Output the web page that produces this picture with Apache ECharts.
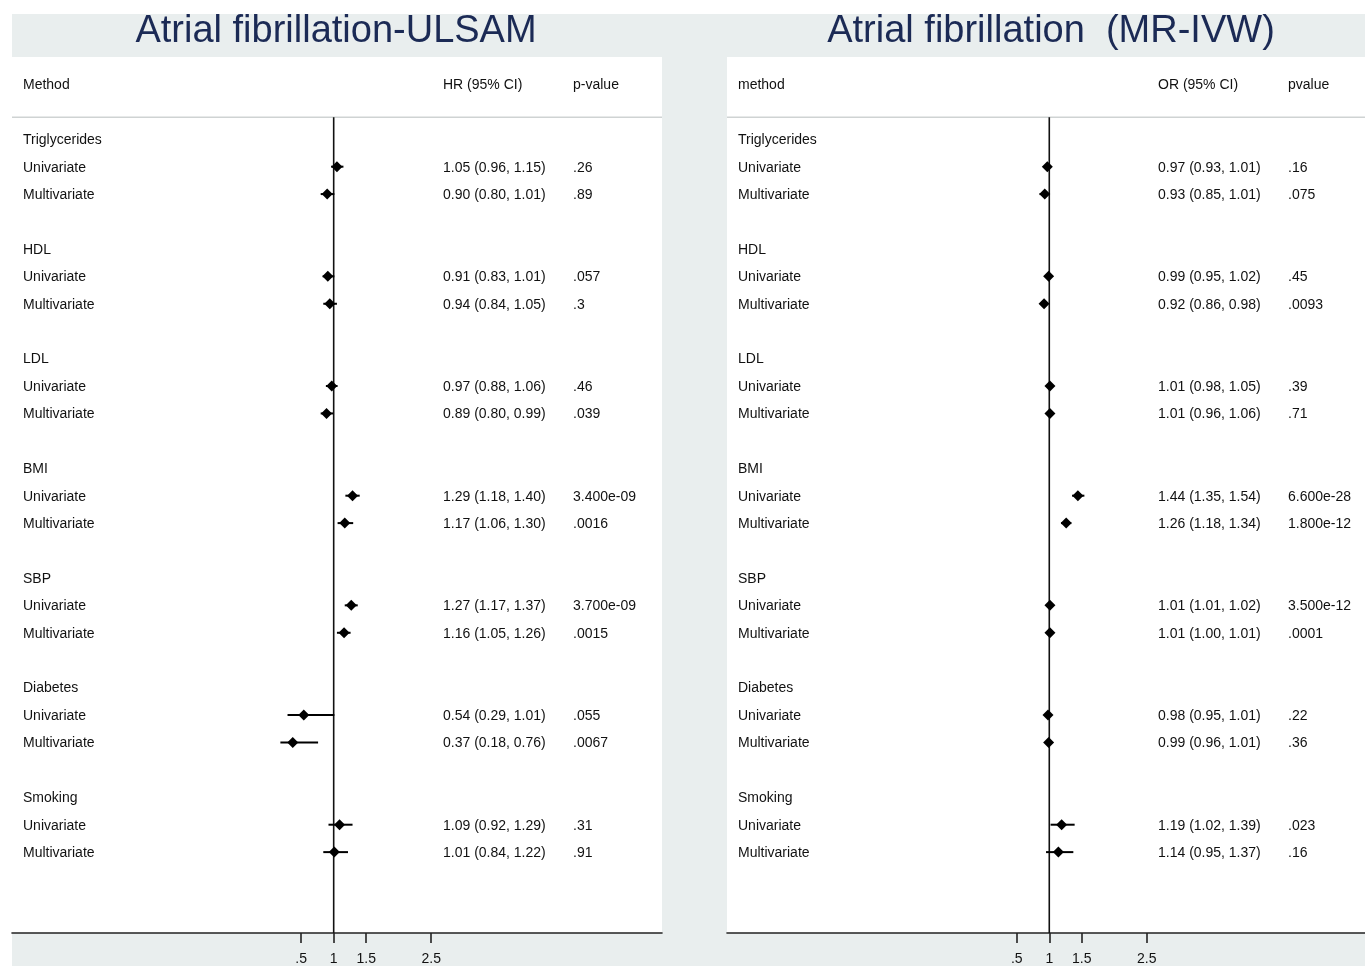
<!DOCTYPE html>
<html><head><meta charset="utf-8">
<script src="https://cdn.jsdelivr.net/npm/echarts@6/dist/echarts.min.js"></script>
<style>html,body{margin:0;padding:0;background:#fff;overflow:hidden}#c{width:1365px;height:966px;display:block}</style>
</head><body><div id="c"></div>
<script>
// ---------- data ----------
const groups = ['Triglycerides','HDL','LDL','BMI','SBP','Diabetes','Smoking'];
const subLabels = ['Univariate','Multivariate'];
const xTicks = [0.5, 1, 1.5, 2.5];

const ulsamTitle = 'Atrial fibrillation-ULSAM';
const ulsamHeaders = ['Method','HR (95% CI)','p-value'];
const ulsamEst = [1.05,0.90, 0.91,0.94, 0.97,0.89, 1.29,1.17, 1.27,1.16, 0.54,0.37, 1.09,1.01];
const ulsamLo  = [0.96,0.80, 0.83,0.84, 0.88,0.80, 1.18,1.06, 1.17,1.05, 0.29,0.18, 0.92,0.84];
const ulsamHi  = [1.15,1.01, 1.01,1.05, 1.06,0.99, 1.40,1.30, 1.37,1.26, 1.01,0.76, 1.29,1.22];
const ulsamP   = ['.26','.89','.057','.3','.46','.039','3.400e-09','.0016','3.700e-09','.0015','.055','.0067','.31','.91'];

const mrTitle = 'Atrial fibrillation  (MR-IVW)';
const mrHeaders = ['method','OR (95% CI)','pvalue'];
const mrEst = [0.97,0.93, 0.99,0.92, 1.01,1.01, 1.44,1.26, 1.01,1.01, 0.98,0.99, 1.19,1.14];
const mrLo  = [0.93,0.85, 0.95,0.86, 0.98,0.96, 1.35,1.18, 1.01,1.00, 0.95,0.96, 1.02,0.95];
const mrHi  = [1.01,1.01, 1.02,0.98, 1.05,1.06, 1.54,1.34, 1.02,1.01, 1.01,1.01, 1.39,1.37];
const mrP   = ['.16','.075','.45','.0093','.39','.71','6.600e-28','1.800e-12','3.500e-12','.0001','.22','.36','.023','.16'];

// ---------- layout ----------
const FONT = '"Liberation Sans", Arial, Helvetica, sans-serif';
const TXT = '#111';
const colOffsets = [11, 431, 561];
const yMin = -3, yMax = 28.95, headerRow = -2, sepRow = -0.8;
const panels = [
  {title: ulsamTitle, headers: ulsamHeaders, est: ulsamEst, lo: ulsamLo, hi: ulsamHi, p: ulsamP,
   left: 12, width: 650, xmin: -3.949, xmax: 6.051, titleX: 336},
  {title: mrTitle, headers: mrHeaders, est: mrEst, lo: mrLo, hi: mrHi, p: mrP,
   left: 727, width: 638, xmin: -3.958, xmax: 5.857, titleX: 1051}
];

function buildRows(pn) {
  const rows = [{row: headerRow, cols: pn.headers}];
  groups.forEach((g, gi) => {
    rows.push({row: gi * 4, cols: [g]});
    subLabels.forEach((s, si) => {
      const i = gi * 2 + si;
      rows.push({row: gi * 4 + 1 + si, cols: [s,
        pn.est[i].toFixed(2) + ' (' + pn.lo[i].toFixed(2) + ', ' + pn.hi[i].toFixed(2) + ')', pn.p[i]]});
    });
  });
  return rows;
}

const grids = [], xAxes = [], yAxes = [], series = [], graphics = [];
graphics.push({type:'rect', shape:{x:0,y:0,width:1365,height:14}, style:{fill:'#fff'}});
graphics.push({type:'rect', shape:{x:0,y:0,width:12,height:966}, style:{fill:'#fff'}});

panels.forEach((pn, k) => {
  grids.push({left: pn.left, top: 57, width: pn.width, height: 883, show: true,
              backgroundColor: '#fff', borderWidth: 0, containLabel: false});
  xAxes.push({type: 'value', gridIndex: k, min: pn.xmin, max: pn.xmax, position: 'bottom',
    axisLine: {show: true, onZero: false, lineStyle: {color: '#222', width: 1.6}},
    axisTick: {show: true, customValues: xTicks, length: 10, lineStyle: {color: '#222', width: 1.6}},
    axisLabel: {customValues: xTicks, margin: 19, color: TXT, fontFamily: FONT, fontSize: 14,
      formatter: v => String(v).replace(/^0\./, '.')},
    splitLine: {show: false}});
  yAxes.push({type: 'value', gridIndex: k, inverse: true, min: yMin, max: yMax, show: false});

  // separator under header
  series.push({type: 'line', xAxisIndex: k, yAxisIndex: k, data: [[pn.xmin, sepRow], [pn.xmax, sepRow]],
    symbol: 'none', silent: true, lineStyle: {color: '#cfd3d3', width: 1.5}, z: 1});
  // reference line at 1
  series.push({type: 'line', xAxisIndex: k, yAxisIndex: k, data: [[1, sepRow], [1, yMax]],
    symbol: 'none', silent: true, lineStyle: {color: '#111', width: 1.6}, z: 2});

  // text rows
  const rows = buildRows(pn);
  series.push({type: 'custom', xAxisIndex: k, yAxisIndex: k, silent: true, z: 3,
    data: rows.map(r => [1, r.row]),
    renderItem: (params, api) => {
      const cs = params.coordSys;
      const y = api.coord([1, api.value(1)])[1];
      const r = rows[params.dataIndex];
      return {type: 'group', children: r.cols.map((t, c) => ({
        type: 'text', style: {text: t, x: cs.x + colOffsets[c], y: y + 1,
          font: '14px ' + FONT, fill: TXT, textAlign: 'left', textVerticalAlign: 'middle',
          align: 'left', verticalAlign: 'middle'}}))};
    }});

  // CI lines + diamonds
  const marks = pn.est.map((e, i) => [e, pn.lo[i], pn.hi[i], Math.floor(i / 2) * 4 + 1 + (i % 2)]);
  series.push({type: 'custom', xAxisIndex: k, yAxisIndex: k, silent: true, z: 4,
    data: marks,
    renderItem: (params, api) => {
      const row = api.value(3);
      const c = api.coord([api.value(0), row]);
      const l = api.coord([api.value(1), row]);
      const h = api.coord([api.value(2), row]);
      const d = 5.5;
      return {type: 'group', children: [
        {type: 'line', shape: {x1: l[0], y1: l[1], x2: h[0], y2: h[1]}, style: {stroke: '#000', lineWidth: 2}},
        {type: 'polygon', shape: {points: [[c[0], c[1]-d], [c[0]+d, c[1]], [c[0], c[1]+d], [c[0]-d, c[1]]]},
         style: {fill: '#000'}}
      ]};
    }});

  graphics.push({type: 'text', x: pn.titleX, y: 32, style: {text: pn.title, font: '38px ' + FONT,
    fill: '#1b2a55', textAlign: 'center', textVerticalAlign: 'middle', align: 'center', verticalAlign: 'middle'}});
});

const chart = echarts.init(document.getElementById('c'), null, {renderer: 'canvas'});
chart.setOption({
  animation: false,
  backgroundColor: '#e9eeee',
  grid: grids, xAxis: xAxes, yAxis: yAxes, series: series,
  graphic: {elements: graphics}
});
</script></body></html>
